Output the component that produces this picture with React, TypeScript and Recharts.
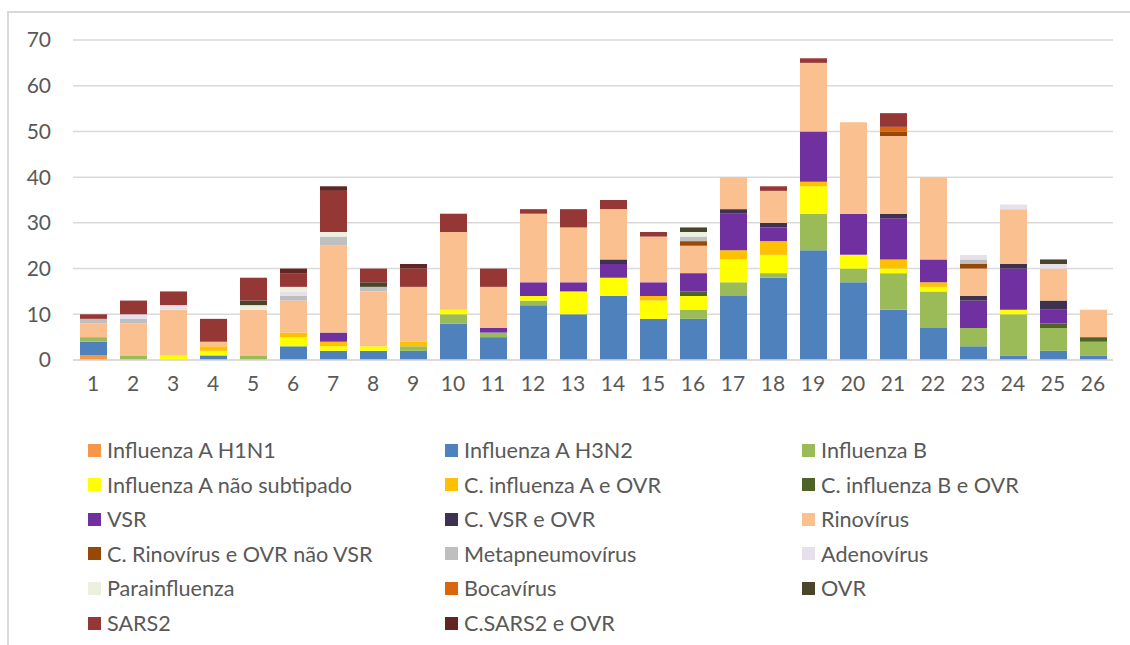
import React from "react";
import { BarChart, Bar, XAxis, YAxis, CartesianGrid, Legend } from "recharts";

const categories = ["1","2","3","4","5","6","7","8","9","10","11","12","13","14","15","16","17","18","19","20","21","22","23","24","25","26"];

const h1n1 =      [1,0,0,0,0,0,0,0,0,0,0,0,0,0,0,0,0,0,0,0,0,0,0,0,0,0];
const h3n2 =      [3,0,0,1,0,3,2,2,2,8,5,12,10,14,9,9,14,18,24,17,11,7,3,1,2,1];
const inflB =     [1,1,0,0,1,0,0,0,1,2,1,1,0,0,0,2,3,1,8,3,8,8,4,9,5,3];
const aNaoSub =   [0,0,1,1,0,2,1,1,0,1,0,1,5,4,4,3,5,4,6,3,1,1,0,1,0,0];
const cInfA =     [0,0,0,1,0,1,1,0,1,0,0,0,0,0,1,0,2,3,1,0,2,1,0,0,0,0];
const cInfB =     [0,0,0,0,0,0,0,0,0,0,0,0,0,0,0,1,0,0,0,0,0,0,0,0,1,1];
const vsr =       [0,0,0,0,0,0,2,0,0,0,1,3,2,3,3,4,8,3,11,9,9,5,6,9,3,0];
const cVsr =      [0,0,0,0,0,0,0,0,0,0,0,0,0,1,0,0,1,1,0,0,1,0,1,1,2,0];
const rino =      [3,7,10,1,10,7,19,12,12,17,9,15,12,11,10,6,7,7,15,20,17,18,6,12,7,6];
const cRino =     [0,0,0,0,0,0,0,0,0,0,0,0,0,0,0,1,0,0,0,0,1,0,1,0,0,0];
const meta =      [1,1,0,0,0,1,2,1,0,0,0,0,0,0,0,1,0,0,0,0,0,0,1,0,0,0];
const adeno =     [0,1,1,0,0,1,0,0,0,0,0,0,0,0,0,0,0,0,0,0,0,0,1,1,1,0];
const parainfl =  [0,0,0,0,1,1,1,0,0,0,0,0,0,0,0,1,0,0,0,0,0,0,0,0,0,0];
const boca =      [0,0,0,0,0,0,0,0,0,0,0,0,0,0,0,0,0,0,0,0,1,0,0,0,0,0];
const ovr =       [0,0,0,0,1,0,0,1,0,0,0,0,0,0,0,1,0,0,0,0,0,0,0,0,1,0];
const sars2 =     [1,3,3,5,5,3,9,3,4,4,4,1,4,2,1,0,0,1,1,0,3,0,0,0,0,0];
const cSars2 =    [0,0,0,0,0,1,1,0,1,0,0,0,0,0,0,0,0,0,0,0,0,0,0,0,0,0];

const seriesNames = [
  "Influenza A H1N1", "Influenza A H3N2", "Influenza B",
  "Influenza A não subtipado", "C. influenza A e OVR", "C. influenza B e OVR",
  "VSR", "C. VSR e OVR", "Rinovírus",
  "C. Rinovírus e OVR não VSR", "Metapneumovírus", "Adenovírus",
  "Parainfluenza", "Bocavírus", "OVR",
  "SARS2", "C.SARS2 e OVR",
];
const seriesValues = [h1n1, h3n2, inflB, aNaoSub, cInfA, cInfB, vsr, cVsr, rino, cRino, meta, adeno, parainfl, boca, ovr, sars2, cSars2];
const seriesColors = [
  "#F79646", "#4F81BD", "#9BBB59",
  "#FFFF00", "#FFC000", "#4F6228",
  "#7030A0", "#3F3151", "#FAC090",
  "#974806", "#BFBFBF", "#E6E0EC",
  "#EBF1DE", "#D9650C", "#4A452A",
  "#953735", "#632523",
];
const yTicks = [0, 10, 20, 30, 40, 50, 60, 70];

const data = categories.map((c, i) => {
  const row: Record<string, any> = { cat: c };
  seriesNames.forEach((n, s) => { row["s" + s] = seriesValues[s][i]; });
  return row;
});

const FONT = "Lato, 'Noto Sans', sans-serif";
const TEXT = "#595959";

const renderLegend = () => {
  const colX = [88, 445, 802];
  return (
    <div style={{ position: "relative", width: 1130, height: 645 }}>
      {seriesNames.map((n, i) => {
        const col = i % 3;
        const row = Math.floor(i / 3);
        const cy = 450 + row * 34.6;
        return (
          <div key={n} style={{ position: "absolute", left: colX[col], top: cy - 12, height: 24, display: "flex", alignItems: "center", whiteSpace: "nowrap" }}>
            <div style={{ width: 13, height: 13, background: seriesColors[i], marginRight: 6 }} />
            <span style={{ fontFamily: FONT, fontSize: 21.6, color: TEXT, lineHeight: "24px" }}>{n}</span>
          </div>
        );
      })}
    </div>
  );
};

export default function App() {
  return (
    <div style={{ position: "absolute", left: 0, top: 0, width: 1130, height: 645, background: "#fff", overflow: "hidden" }}>
      <div style={{ position: "absolute", left: 7, top: 11, width: 1200, height: 700, borderLeft: "2px solid #D9D9D9", borderTop: "2px solid #D9D9D9" }} />
      <BarChart
        width={1130}
        height={645}
        data={data}
        margin={{ top: 40, right: 17, left: 13, bottom: 255 }}
        barSize={27}
        style={{ position: "absolute", left: 0, top: 0 }}
      >
        <CartesianGrid vertical={false} stroke="#D9D9D9" strokeWidth={1.5} />
        <XAxis
          dataKey="cat"
          height={30}
          tickLine={false}
          tickSize={0}
          tickMargin={16}
          axisLine={{ stroke: "#D9D9D9", strokeWidth: 1.5 }}
          tick={{ fill: TEXT, fontSize: 21, fontFamily: FONT }}
          interval={0}
        />
        <YAxis
          width={60}
          domain={[0, 70]}
          ticks={yTicks}
          axisLine={false}
          tickLine={false}
          tickSize={0}
          tickMargin={22}
          tick={{ fill: TEXT, fontSize: 21, fontFamily: FONT }}
        />
        {seriesNames.map((n, s) => (
          <Bar key={n} dataKey={"s" + s} name={n} stackId="a" fill={seriesColors[s]} isAnimationActive={false} />
        ))}
        <Legend
          layout="vertical"
          align="center"
          verticalAlign="middle"
          wrapperStyle={{ left: 0, top: 0, width: 1130, height: 645, pointerEvents: "none" }}
          content={renderLegend}
        />
      </BarChart>
    </div>
  );
}
